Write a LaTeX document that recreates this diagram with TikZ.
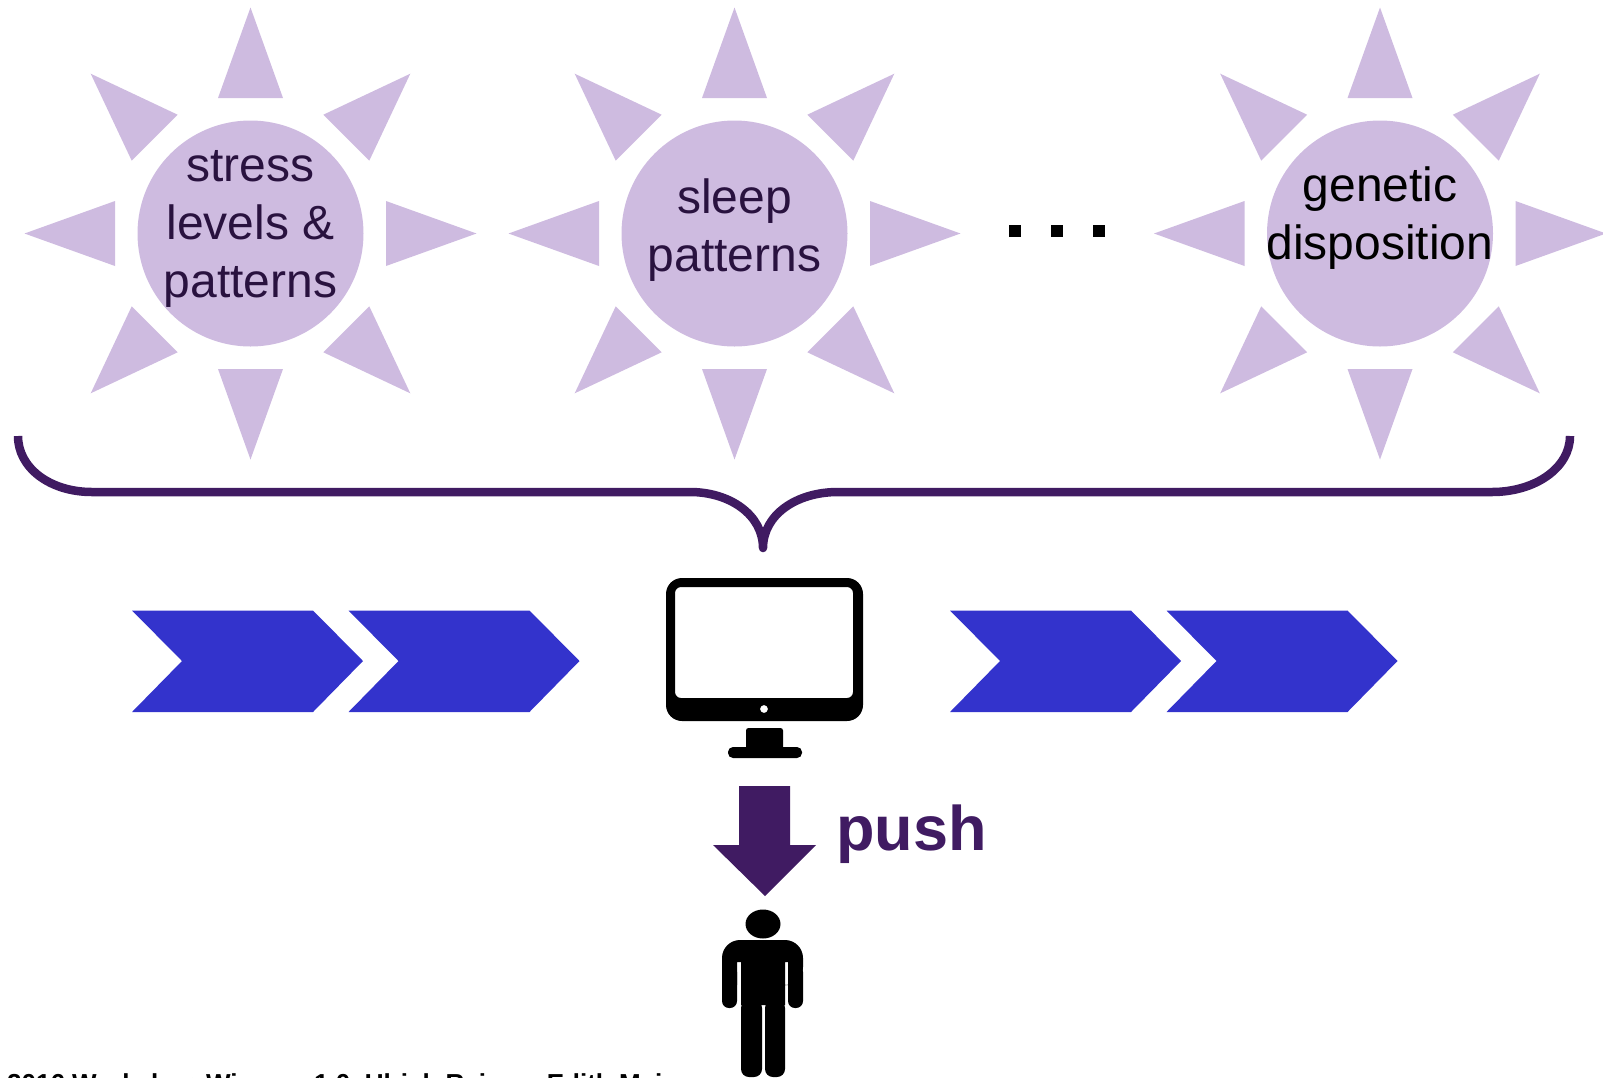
\documentclass[tikz,border=0pt]{standalone}
\usepackage{fontspec}
\setmainfont{Liberation Sans}
\definecolor{sunlilac}{HTML}{CEBBE0}
\definecolor{deeppurple}{HTML}{401B62}
\definecolor{sundark}{HTML}{29123F}
\definecolor{chevblue}{HTML}{3333CC}
\tikzset{
  x=1pt,y=-1pt,
  sunray/.style={fill=sunlilac,draw=none},
  sundisc/.style={circle,fill=sunlilac,draw=none,minimum size=226pt,inner sep=0pt},
  suntext/.style={inner sep=0pt,align=center,font=\fontsize{48}{58}\selectfont},
  chev/.style={fill=chevblue,draw=none},
  bracepath/.style={draw=deeppurple,line width=8.5pt,line join=round},
  dotsq/.style={fill=black,draw=none,minimum size=12pt,inner sep=0pt,rectangle},
  iconfill/.style={fill=black,draw=none},
}
\newcommand{\sunrays}[1]{%
  \foreach \a in {0,45,...,315}{
    \fill[sunray,rotate around={\a:(#1)}] ([shift={(0,-226)}]#1) -- ([shift={(32.5,-135.5)}]#1) -- ([shift={(-32.5,-135.5)}]#1) -- cycle;
  }%
}
\newcommand{\chevron}[1]{%
  \fill[chev,shift={(#1,0)}] (132,610.5) -- (313,610.5) -- (363,661) -- (313,712) -- (132,712) -- (182,661) -- cycle;%
}
\begin{document}
\begin{tikzpicture}
\useasboundingbox (0,0) rectangle (1603,1077);
% suns
\coordinate (c1) at (250.5,233.5);
\coordinate (c2) at (734.5,233.5);
\coordinate (c3) at (1380,233.5);
\sunrays{c1}\sunrays{c2}\sunrays{c3}
\node[sundisc] (s1) at (c1) {};
\node[sundisc] (s2) at (c2) {};
\node[sundisc] (s3) at (c3) {};
\node[suntext,text=sundark] (t1) at ([shift={(0,-4.5)}]c1) {stress\\levels \&\\patterns};
\node[suntext,text=sundark] (t2) at ([shift={(0,-3)}]c2) {sleep\\patterns};
\node[suntext,text=black] (t3) at ([shift={(0,-15)}]c3) {genetic\\disposition};
% dots
\node[dotsq] (d1) at (1015,231) {};
\node[dotsq] (d2) at (1057,231) {};
\node[dotsq] (d3) at (1099,231) {};
% brace
\coordinate (braceL) at (18,436);
\coordinate (braceTip) at (763,548);
\coordinate (braceR) at (1570,436);
\draw[bracepath] (braceL) .. controls (18,468) and (50,492) .. (92,492) -- (690,492)
  .. controls (730,492) and (763,515) .. (braceTip)
  .. controls (763,515) and (796,492) .. (838,492) -- (1492,492)
  .. controls (1535,492) and (1570,468) .. (braceR);
% chevrons
\chevron{0}\chevron{216.5}\chevron{818}\chevron{1034.5}
% monitor
\fill[iconfill,even odd rule] [rounded corners=16pt] (666,578) rectangle (863,721)
  [rounded corners=6pt] (675,587) rectangle (853,698)
  [sharp corners] (764,709) circle[radius=4];
\fill[iconfill,rounded corners=2.5pt] (746,728) rectangle (783,752);
\fill[iconfill,rounded corners=5pt] (728,747) rectangle (802,758);
% arrow
\fill[deeppurple] (739,786) -- (790,786) -- (790,845) -- (816,845) -- (765,896) -- (713,845) -- (739,845) -- cycle;
\node[anchor=base west,inner sep=0pt,text=deeppurple,font=\fontsize{63}{65}\selectfont\bfseries] (pushlabel) at (836,850) {push};
% person
\fill[iconfill] (763,924) ellipse[x radius=17.5,y radius=14.5];
\fill[iconfill,rounded corners=18pt] (722,985) -- (722,940) -- (803,940) -- (803,985) [sharp corners]
  -- (788,985) -- (788,962) -- (785,962) -- (785,1005) -- (741,1005) -- (741,962) -- (737,962) -- (737,985) -- cycle;
\fill[iconfill,rounded corners=7pt] (722,965) rectangle (737,1008);
\fill[iconfill,rounded corners=7pt] (788,965) rectangle (803,1008);
\fill[iconfill,rounded corners=8pt] (741,1000) rectangle (762,1077);
\fill[iconfill,rounded corners=8pt] (765,1000) rectangle (785,1077);
% cut-off footer
\begin{scope}
\clip (0,0) rectangle (1603,1077);
\node[anchor=base west,inner sep=0pt,font=\fontsize{26}{28}\selectfont\bfseries] (footer) at (7,1092) {2016 Workshop Wiesner 1.0, Ulrich Reimer, Edith Maier};
\end{scope}
\end{tikzpicture}
\end{document}
